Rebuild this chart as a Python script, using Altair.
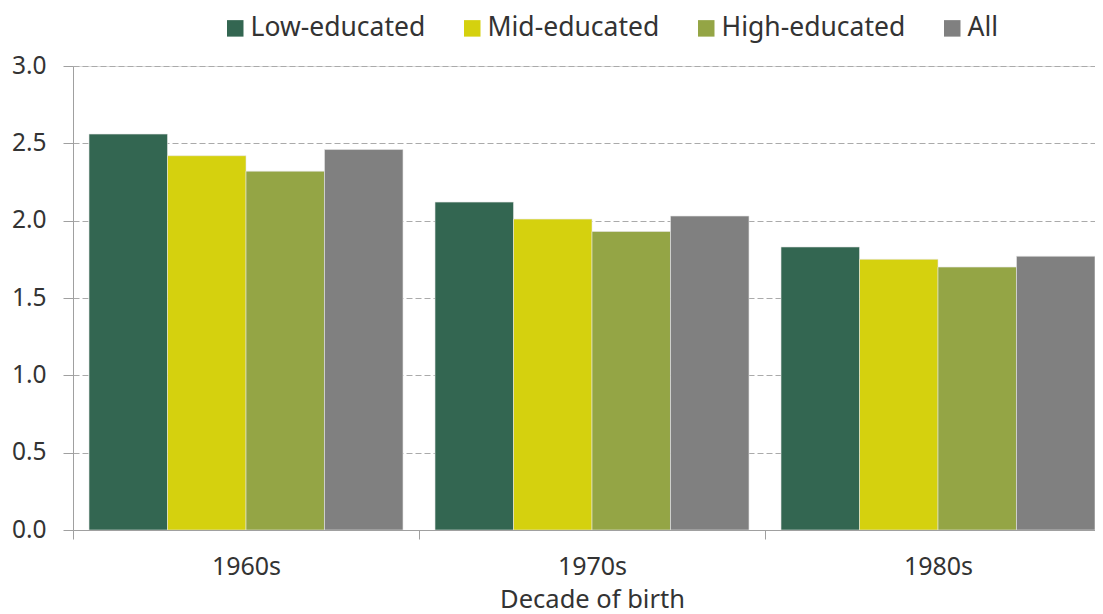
import altair as alt
import pandas as pd

decades = ["1960s", "1970s", "1980s"]
groups = ["Low-educated", "Mid-educated", "High-educated", "All"]
low_educated = [2.56, 2.12, 1.83]
mid_educated = [2.42, 2.01, 1.75]
high_educated = [2.32, 1.93, 1.70]
all_groups = [2.46, 2.03, 1.77]
colors = ["#336651", "#D5D10E", "#94A545", "#808080"]
y_ticks = [0.0, 0.5, 1.0, 1.5, 2.0, 2.5, 3.0]

series = [low_educated, mid_educated, high_educated, all_groups]
rows = []
for g, vals in zip(groups, series):
    for d, v in zip(decades, vals):
        rows.append({"decade": d, "group": g, "value": v})
df = pd.DataFrame(rows)

FONT = "Noto Sans"
TXT = "#333333"

chart = alt.Chart(df).mark_bar(stroke="#e6e6e6", strokeWidth=0.6).encode(
    x=alt.X(
        "decade:N",
        sort=decades,
        title="Decade of birth",
        scale=alt.Scale(range=[0, 1038], paddingInner=0, paddingOuter=0),
        axis=alt.Axis(
            labelAngle=0,
            tickBand="extent",
            domainColor="#a0a0a0",
            tickColor="#a0a0a0",
            tickSize=9,
            labelPadding=15,
            labelFont=FONT,
            labelFontSize=25,
            labelColor=TXT,
            titleFont=FONT,
            titleFontSize=25.5,
            titleFontWeight="normal",
            titleColor=TXT,
            titlePadding=8,
            zindex=1,
        ),
    ),
    xOffset=alt.XOffset("group:N", sort=groups,
                        scale=alt.Scale(paddingInner=0, paddingOuter=0.204)),
    y=alt.Y(
        "value:Q",
        title=None,
        scale=alt.Scale(domain=[0, 3], nice=False),
        axis=alt.Axis(
            values=y_ticks,
            format=".1f",
            grid=True,
            gridColor="#aaaaaa",
            gridDash=[6, 3],
            gridWidth=1,
            domainColor="#a0a0a0",
            tickColor="#a0a0a0",
            tickSize=10,
            labelPadding=17,
            labelFont=FONT,
            labelFontSize=24.5,
            labelColor=TXT,
        ),
    ),
    color=alt.Color(
        "group:N",
        sort=groups,
        scale=alt.Scale(domain=groups, range=colors),
        legend=alt.Legend(
            title=None,
            orient="none",
            legendX=149,
            legendY=-51,
            direction="horizontal",
            symbolType="square",
            symbolSize=272,
            symbolStrokeWidth=0,
            labelFont=FONT,
            labelFontSize=26.5,
            labelColor=TXT,
            labelOffset=2,
            labelLimit=400,
            columnPadding=33,
            padding=0,
        ),
    ),
).properties(
    width=1022,
    height=464,
    autosize=alt.AutoSizeParams(type="none"),
    padding={"left": 65, "top": 58, "right": 0, "bottom": 84},
).configure_view(stroke=None).configure(background="white")

chart.save("out.html", embed_options={"renderer": "svg", "actions": False})
